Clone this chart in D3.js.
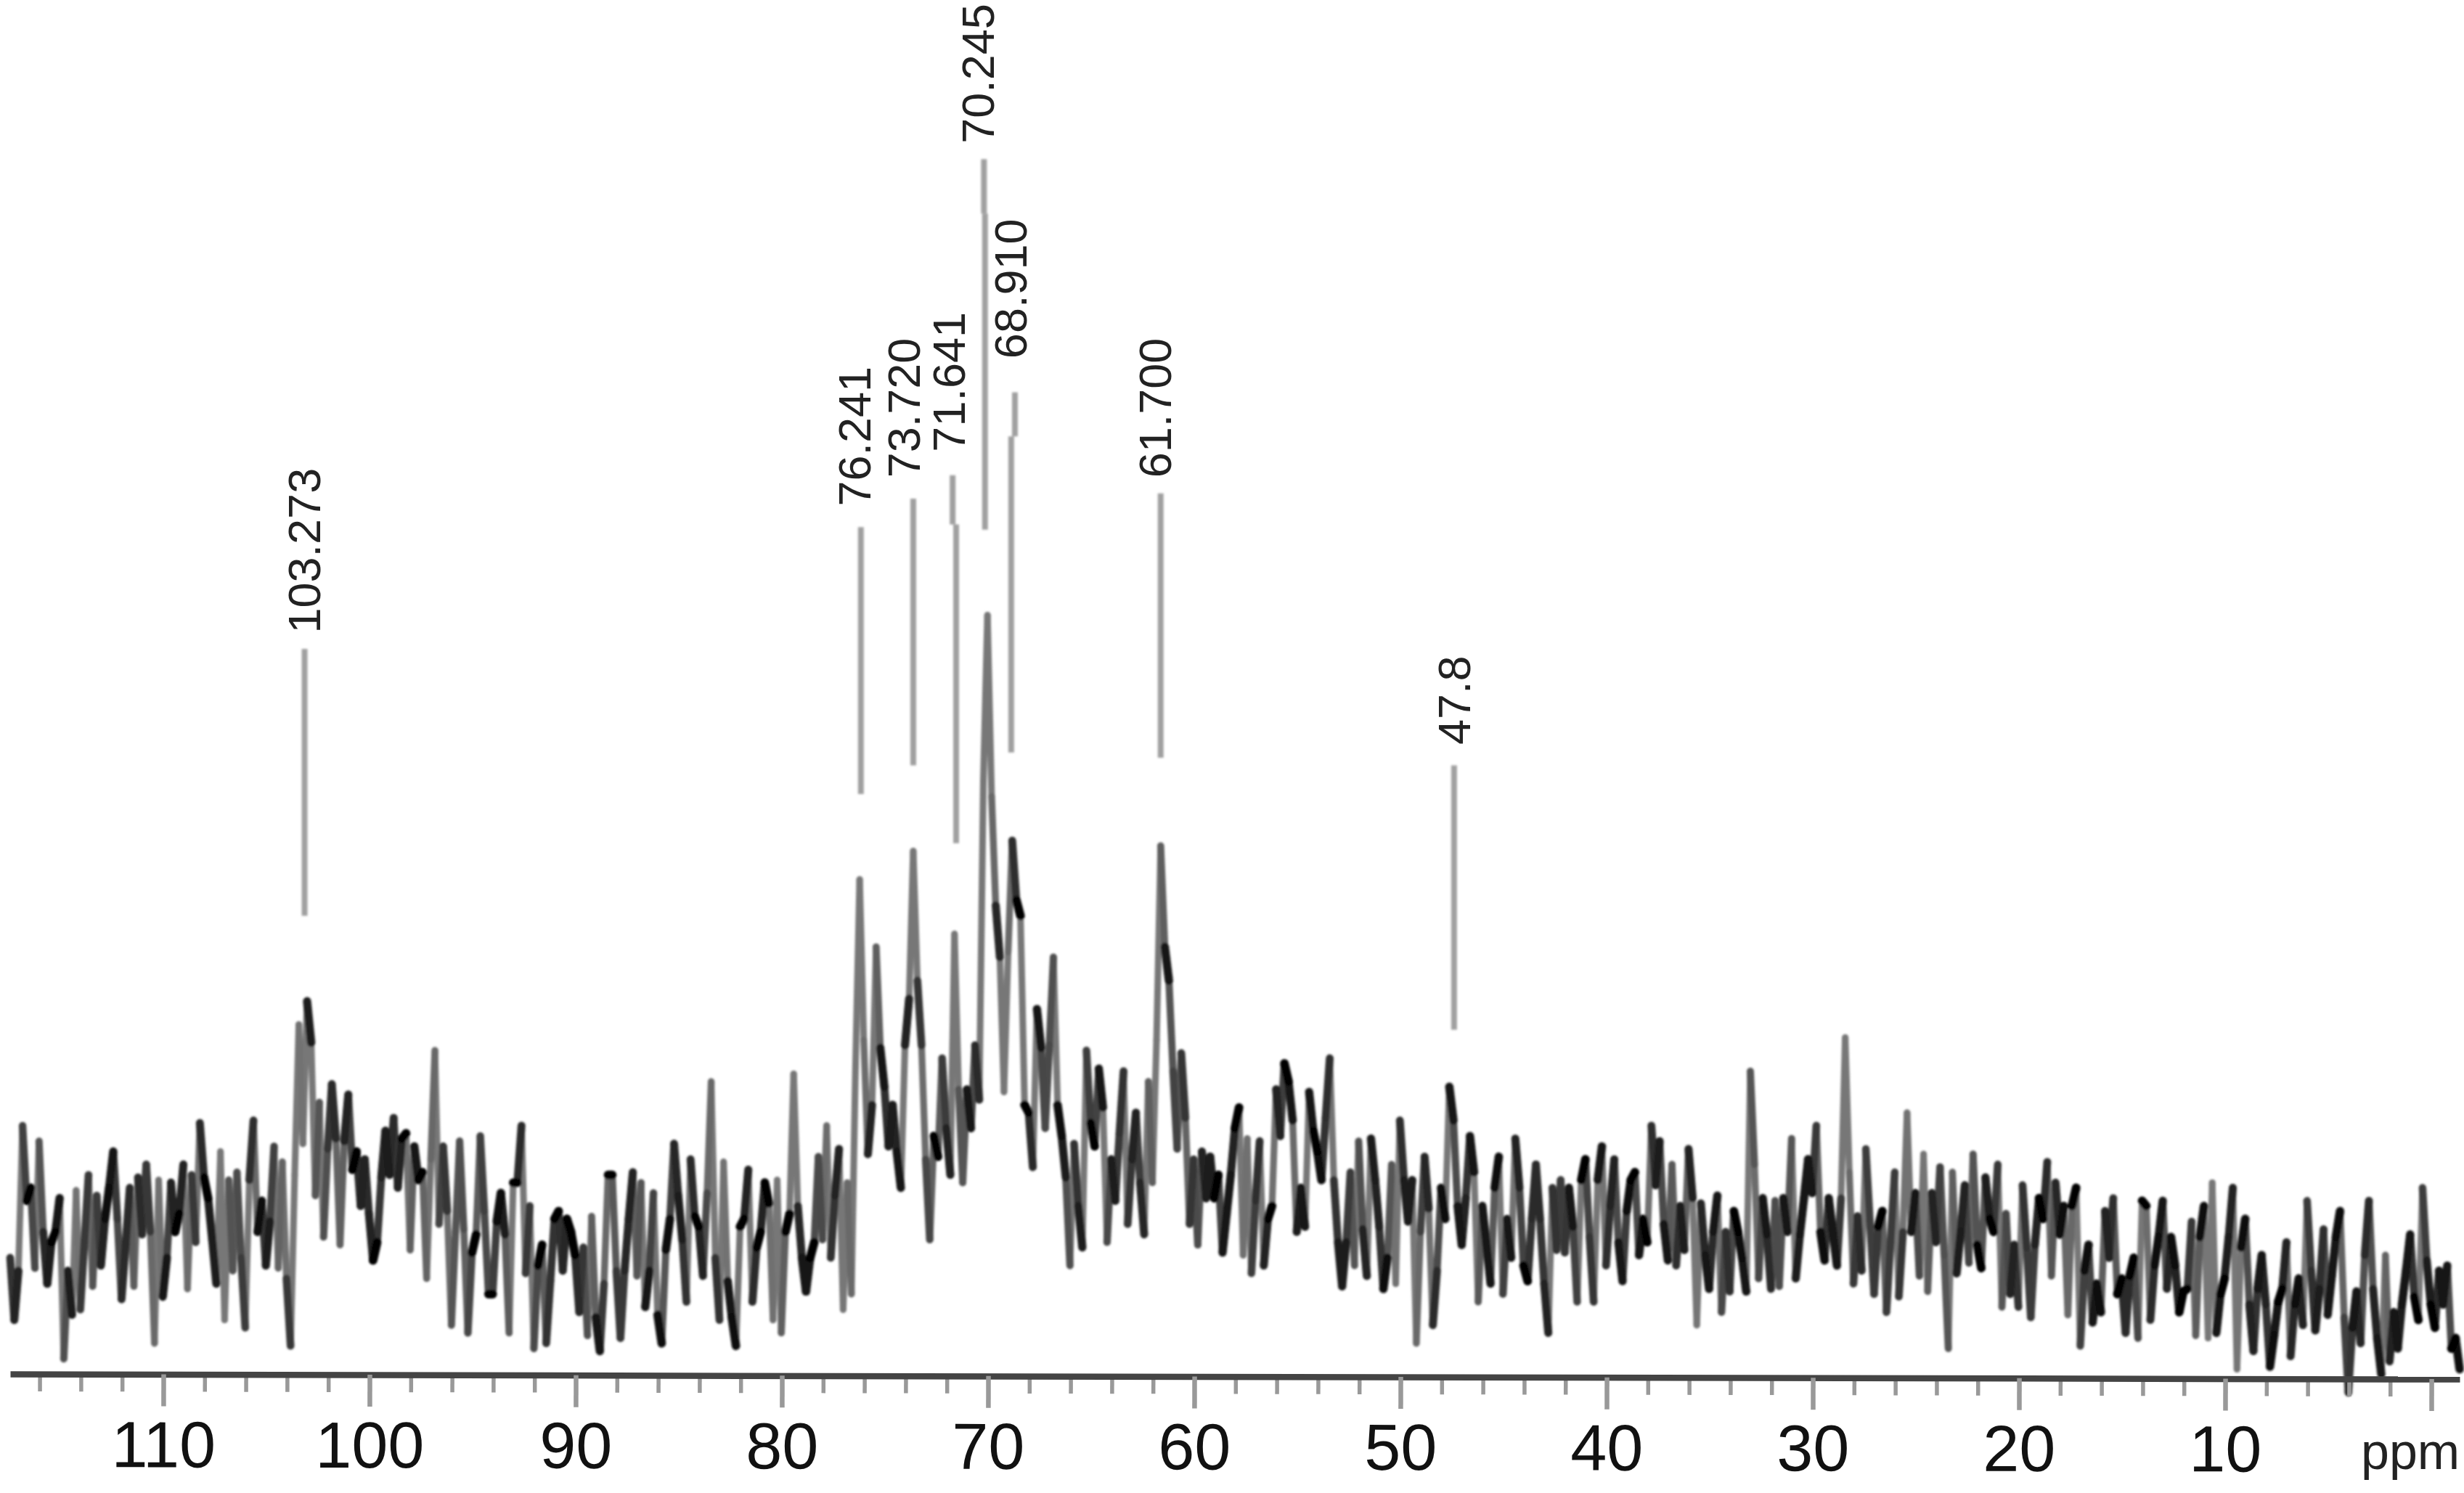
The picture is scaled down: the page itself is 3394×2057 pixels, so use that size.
<!DOCTYPE html>
<html>
<head>
<meta charset="utf-8">
<script src="https://cdn.jsdelivr.net/npm/d3@7"></script>
<style>
html,body{margin:0;padding:0;background:#fff;}
svg{display:block;}
text{font-family:"Liberation Sans",Arial,sans-serif;}
</style>
</head>
<body>
<svg id="chart" width="3394" height="2057"></svg>
<script>
// Spectrum intensity, one value every 0.2 ppm, high ppm to low ppm.
const trace117to103 = [44,20,39,95,66,71,40,89,54,34,50,54,67,5,39,22,70,24,50,76,33,68,41,59,71,85,59,28,49,71,33,75,53,80,54,11,74,29,44,73,54,61,80,32,76,50,96,75,67,51,34,85,20,74,39,77,44,17,74,97,54,66,41,58,87,40,81,36,10,76,134,88];
const trace103to88 = [143,127,68,104,52,86,111,90,49,89,107,78,85,64,82,61,43,50,75,93,76,98,71,90,92,47,87,74,77,36,82,124,57,87,62,18,54,89,55,15,46,53,91,62,30,30,58,69,53,15,73,73,95,38,64,9,41,49,11,35,59,62,39,59,54,45,23,48,14,60,21,8,34,76];
const trace88to76 = [76,39,13,39,59,77,37,73,25,39,69,22,11,47,59,88,68,51,27,82,60,56,37,69,112,44,20,81,35,21,10,56,59,78,27,48,54,73,65,20,74,15,54,61,115,64,44,31,44,50,83,51,95,44,68,86,24,73,30];
const trace76to59 = [118,190,128,84,103,164,125,110,87,103,85,71,126,144,201,151,126,82,51,91,83,121,94,76,169,109,73,109,94,126,105,228,292,222,180,160,108,162,205,182,176,103,100,79,140,125,94,126,160,103,91,75,41,88,64,48,124,96,87,117,102,50,82,66,92,116,57,82,100,73,53,112,73,128,203,164,151,116,86,123,98,57,82,49,85,67,83,67,76];
const trace59to45 = [46,61,76,94,102,45,90,38,66,89,41,59,64,109,91,119,112,97,54,71,56,108,93,85,74,98,121,74,50,33,50,77,41,89,55,37,90,74,56,32,44,80,34,97,74,58,74,11,54,83,63,18,39,71,59,110,97,64,49,67,91,77,27,64,49,34,71,83,30,59];
const trace45to30 = [44,90,71,41,35,59,80,59,34,15,71,47,74,46,71,56,27,74,82,52,27,74,87,41,64,82,50,35,62,74,77,45,59,50,95,72,89,57,43,80,41,64,47,86,67,18,65,45,32,54,68,23,54,31,62,54,44,31,116,80,36,67,53,32,66,33,67,54,90,36,53,67,82,69];
const trace30to14 = [95,54,43,67,54,41,67,129,77,34,60,39,86,58,30,56,62,23,50,77,29,54,100,54,69,37,84,31,69,50,79,45,9,77,38,54,72,42,84,49,40,75,59,54,80,25,61,30,49,25,72,48,21,49,67,59,81,37,73,53,64,22,64,71,10,39,49,19,34,23,62,44,67,30,36,15,37,44,13,66];
const trace14to0 = [64,20,41,52,66,32,52,41,23,31,32,58,14,52,64,13,73,15,30,36,52,71,1,48,59,26,8,32,45,26,2,14,27,32,50,6,26,36,18,66,39,16,32,55,22,37,52,62,21,-8,17,31,11,45,66,32,13,-1,45,4,23,9,26,39,53,29,20,71,43,26,17,39,26,41,9,13,1];
const traceValues = [...trace117to103, ...trace103to88, ...trace88to76, ...trace76to59, ...trace59to45, ...trace45to30, ...trace30to14, ...trace14to0];
const traceStartPpm = 117.43;
const traceStepPpm = 0.2;

// Axis ticks
const majorTicks = [110,100,90,80,70,60,50,40,30,20,10,0];
const minorTicks = [116,114,112,108,106,104,102,98,96,94,92,88,86,84,82,78,76,74,72,68,66,64,62,58,56,54,52,48,46,44,42,38,36,34,32,28,26,24,22,18,16,14,12,8,6,4,2];
const axisUnit = "ppm";

// Peak picks: printed label, drawn line position in ppm, and line ends in intensity units
const peakLabels = ["103.273","76.241","73.720","71.641","70.245","68.910","61.700","47.8"];
const peakLinePpm = [103.15,76.17,73.63,71.55,70.15,68.88,61.63,47.4];
const peakLineBottom = [176,223,234,204,325,239,237,132];
const peakLineTop = [279,326,337,327,447,361,339,234];
// Short upper stubs that sit slightly offset from the lower line
const peakStubPpm = [null,null,null,71.72,70.2,68.7,null,null];
const peakStubTop = [null,null,null,346,468,378,null,null];
// Where each rotated label sits: baseline ppm and bottom-end intensity
const peakLabelPpm = [102.38,75.72,73.32,71.12,69.72,68.12,61.12,46.62];
const peakLabelBase = [285,334,345,355,474,391,345,242];

const svg = d3.select("#chart");
const x = d3.scaleLinear().domain([117.43,-1.37]).range([14,3388]);
const y = d3.scaleLinear().domain([0,100]).range([1890,1533]);
// Pen-speed shading: slow stretches print black, fast spikes print grey
const speedInk = d3.scaleLinear().domain([25,170]).range(["#000","#777"]).clamp(true);
const speedWidth = d3.scaleLinear().domain([25,170]).range([12,9]).clamp(true);

const defs = svg.append("defs");
defs.append("filter").attr("id","soft").attr("x","-1%").attr("y","-1%").attr("width","102%").attr("height","102%")
  .attr("filterUnits","objectBoundingBox")
  .append("feGaussianBlur").attr("stdDeviation",1.5);

const pts = traceValues.map((v,i)=>[traceStartPpm - i*traceStepPpm, v]);
const drop = d => Math.abs(y(d[0][1]) - y(d[1][1]));
// Long, fast segments first so the slow dark ones sit on top
const segs = d3.pairs(pts).sort((a,b)=>drop(b)-drop(a));
svg.append("g").attr("filter","url(#soft)")
  .selectAll("line").data(segs).join("line")
  .attr("x1",d=>x(d[0][0])).attr("y1",d=>y(d[0][1]))
  .attr("x2",d=>x(d[1][0])).attr("y2",d=>y(d[1][1]))
  .attr("stroke",d=>speedInk(drop(d))).attr("stroke-width",d=>speedWidth(drop(d))).attr("stroke-linecap","round");

// Peak lines
const peaks = peakLabels.map((label,i)=>({label,i}));
const gp = svg.append("g").attr("filter","url(#soft)");
gp.selectAll("line.low").data(peaks).join("line").attr("class","low")
  .attr("x1",d=>x(peakLinePpm[d.i])).attr("x2",d=>x(peakLinePpm[d.i]))
  .attr("y1",d=>y(peakLineBottom[d.i])).attr("y2",d=>y(peakLineTop[d.i]))
  .attr("stroke","#a0a0a0").attr("stroke-width",8);
gp.selectAll("line.stub").data(peaks.filter(d=>peakStubPpm[d.i]!==null)).join("line").attr("class","stub")
  .attr("x1",d=>x(peakStubPpm[d.i])).attr("x2",d=>x(peakStubPpm[d.i]))
  .attr("y1",d=>y(peakLineTop[d.i])).attr("y2",d=>y(peakStubTop[d.i]))
  .attr("stroke","#a0a0a0").attr("stroke-width",8);

// Peak labels
svg.append("g").selectAll("text").data(peaks).join("text")
  .attr("transform",d=>`translate(${x(peakLabelPpm[d.i])},${y(peakLabelBase[d.i])}) rotate(-90)`)
  .attr("font-size",63).attr("fill","#222").text(d=>d.label);

// Axis, very slightly tilted as in the scan
const gAxis = svg.append("g").attr("transform","translate(0,1893) rotate(0.12)");
const minor = gAxis.append("g").call(d3.axisBottom(x).tickValues(minorTicks).tickSize(24).tickFormat(""));
minor.select(".domain").remove();
minor.selectAll("line").attr("stroke","#999").attr("stroke-width",5.5);
const major = gAxis.append("g").call(d3.axisBottom(x).tickValues(majorTicks).tickSize(44).tickSizeOuter(0).tickFormat(d=>d===0?"":d));
major.select(".domain").attr("stroke","#444").attr("stroke-width",8.5);
major.selectAll("line").attr("stroke","#999").attr("stroke-width",6.5);
major.selectAll("text").attr("y",128).attr("dy",0).attr("font-size",90).attr("fill","#111").attr("font-family","Liberation Sans");

svg.append("text").attr("x",3252).attr("y",2024).attr("font-size",70).attr("fill","#222").text(axisUnit);
</script>
</body>
</html>
